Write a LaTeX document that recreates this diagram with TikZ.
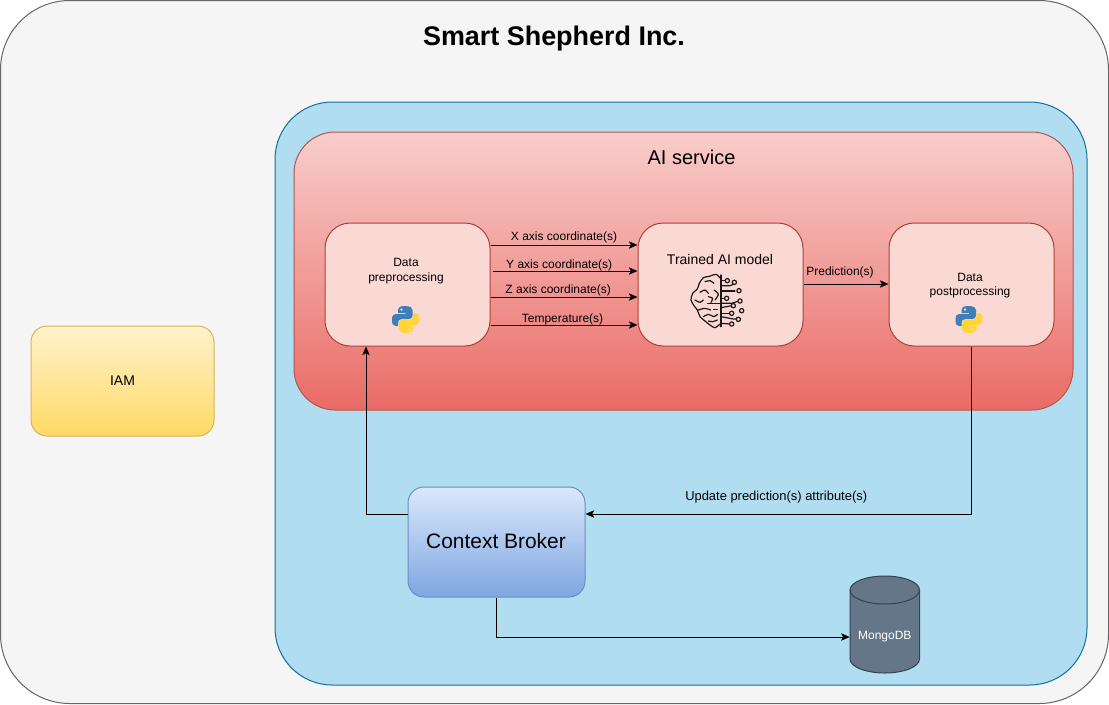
\documentclass[tikz,border=0pt]{standalone}
\usepackage{fontspec}
\setmainfont{Liberation Sans}
\usetikzlibrary{arrows.meta}
\definecolor{outerfill}{HTML}{F5F5F5}
\definecolor{outerline}{HTML}{666666}
\definecolor{bluefill}{HTML}{B1DDF0}
\definecolor{blueline}{HTML}{10739E}
\definecolor{redtop}{HTML}{F8CECC}
\definecolor{redbot}{HTML}{EA6B66}
\definecolor{redline}{HTML}{B85450}
\definecolor{innerfill}{HTML}{FAD9D5}
\definecolor{innerline}{HTML}{AE4132}
\definecolor{ytop}{HTML}{FFF2CC}
\definecolor{ybot}{HTML}{FFD966}
\definecolor{yline}{HTML}{D6B656}
\definecolor{btop}{HTML}{DAE8FC}
\definecolor{bbot}{HTML}{7EA6E0}
\definecolor{bline}{HTML}{6C8EBF}
\definecolor{dbfill}{HTML}{647687}
\definecolor{dbline}{HTML}{314354}
\definecolor{pyblue}{HTML}{3F7FB5}
\definecolor{pyyellow}{HTML}{FFD43B}
\tikzset{
  x=0.75pt,y=-0.75pt,
  px/.style 2 args={minimum width=#1*0.75pt,minimum height=#2*0.75pt},
  region/.style={draw,rectangle,inner sep=0pt,line width=0.75pt},
  outerbox/.style={region,draw=outerline,fill=outerfill,px={1108}{703},rounded corners=52pt},
  bluebox/.style={region,draw=blueline,fill=bluefill,px={812}{583},rounded corners=43pt},
  aibox/.style={region,draw=redline,top color=redtop,bottom color=redbot,px={779}{278},rounded corners=31pt},
  innerbox/.style={region,draw=innerline,fill=innerfill,px={165}{123},rounded corners=19pt},
  iambox/.style={region,draw=yline,top color=ytop,bottom color=ybot,px={183}{110},rounded corners=12pt},
  cbbox/.style={region,draw=bline,top color=btop,bottom color=bbot,px={177}{110},rounded corners=12pt},
  lbl/.style={font=\fontsize{9pt}{11pt}\selectfont,inner sep=0pt,align=center},
  conn/.style={line width=0.75pt,-{Stealth[length=6.5pt,width=5.5pt,inset=1.5pt]}},
  brainline/.style={line width=0.9pt,black!90,line cap=round,line join=round},
  pythonlogo/.pic={
    \begin{scope}[shift={(-13.5,-13.5)}]
      \fill[pyblue,even odd rule] (13,0) .. controls (7,0) and (6,2) .. (6,4) -- (6,7) -- (13.5,7) -- (13.5,8) -- (3.5,8)
        .. controls (1,8) and (0,10) .. (0,14) .. controls (0,18) and (1,20) .. (3.5,20) -- (6,20) -- (6,16.5)
        .. controls (6,14.5) and (7.5,13) .. (10,13) -- (17,13) .. controls (19,13) and (20.5,11.5) .. (20.5,9.5)
        -- (20.5,4) .. controls (20.5,2) and (18.5,0) .. (13,0) -- cycle
        (9.5,3.6) circle[radius=1.2pt];
      \begin{scope}[shift={(27,27)},xscale=-1,yscale=-1]
      \fill[pyyellow,even odd rule] (13,0) .. controls (7,0) and (6,2) .. (6,4) -- (6,7) -- (13.5,7) -- (13.5,8) -- (3.5,8)
        .. controls (1,8) and (0,10) .. (0,14) .. controls (0,18) and (1,20) .. (3.5,20) -- (6,20) -- (6,16.5)
        .. controls (6,14.5) and (7.5,13) .. (10,13) -- (17,13) .. controls (19,13) and (20.5,11.5) .. (20.5,9.5)
        -- (20.5,4) .. controls (20.5,2) and (18.5,0) .. (13,0) -- cycle
        (9.5,3.6) circle[radius=1.2pt];
      \end{scope}
    \end{scope}
  }
}
\begin{document}
\begin{tikzpicture}
\useasboundingbox (0,0) rectangle (1109,704);
\node[outerbox] (outer) at (554.5,352) {};
\node[bluebox] (blue) at (681,393.5) {};
\node[aibox] (ai) at (683.5,271) {};
\node[innerbox] (pre) at (407.5,284.5) {};
\node[innerbox] (model) at (720.5,284.5) {};
\node[innerbox] (post) at (971.5,284.5) {};
\node[iambox,font=\fontsize{10.5pt}{12pt}\selectfont,inner sep=0pt] (iam) at (122.5,381) {IAM};
\node[cbbox] (cb) at (496.5,542) {};
\node[font=\fontsize{15.7pt}{18pt}\selectfont,inner sep=0pt] (cbtext) at (496,541) {Context Broker};

\node[font=\bfseries\fontsize{20.2pt}{24pt}\selectfont,inner sep=0pt] (title) at (554,39) {Smart Shepherd Inc.};
\node[font=\fontsize{15pt}{18pt}\selectfont,inner sep=0pt] (aititle) at (691.5,157.5) {AI service};
\node[lbl] (pretext) at (406,271) {Data\\preprocessing};
\node[lbl] (posttext) at (970,285.5) {Data\\postprocessing};
\node[font=\fontsize{10.5pt}{12pt}\selectfont,inner sep=0pt] (modeltext) at (720,259) {Trained AI model};

\pic at (405.5,319.5) {pythonlogo};
\pic at (969,319.5) {pythonlogo};

% brain icon
\begin{scope}[shift={(640,215)},x=0.25pt,y=-0.25pt,brainline]
  \draw plot[smooth] coordinates {(243,192)(228,178)(208,184)(190,188)(178,205)(172,222)(158,235)(153,255)(162,272)(172,285)(180,305)(195,318)(210,330)(225,338)(243,325)};
  \draw (243,180) -- (243,335);
  \draw plot[smooth] coordinates {(195,200)(210,197)(222,205)};
  \draw plot[smooth] coordinates {(180,232)(195,225)(205,235)};
  \draw plot[smooth] coordinates {(222,225)(235,238)(225,255)};
  \draw plot[smooth] coordinates {(205,245)(218,250)(213,262)};
  \draw plot[smooth] coordinates {(165,255)(180,262)(190,255)};
  \draw (203,265) -- (243,265);
  \draw plot[smooth] coordinates {(175,285)(195,280)(212,285)};
  \draw (220,283) -- (232,283);
  \draw plot[smooth] coordinates {(190,305)(205,298)(222,305)(232,298)};
  \draw plot[smooth] coordinates {(205,318)(218,320)(232,315)};
  % circuit
  \draw (243,197) -- (257,197);
  \draw (243,212) -- (270,212) -- (283,207);
  \draw (243,228) -- (285,228) ;
  \draw (243,250) -- (255,250);
  \draw (243,265) -- (275,265) -- (296,258);
  \draw (243,278) -- (275,272);
  \draw (243,295) -- (270,295);
  \draw (243,305) -- (280,312) -- (290,312);
  \draw (243,325) -- (270,327);
  \foreach \cx/\cy in {262/197,283/202,297/227,260/250,300/258,280/272,305/287,275/295,295/313,275/327}
    \draw[fill=innerfill] (\cx,\cy) circle[radius=1.6pt];
\end{scope}

% MongoDB cylinder
\fill[dbfill] (850,590) arc[start angle=180,end angle=360,x radius=34.75,y radius=14] -- (919.5,659) arc[start angle=0,end angle=180,x radius=34.75,y radius=14] -- cycle;
\draw[dbline,line width=0.75pt] (850,590) arc[start angle=180,end angle=-180,x radius=34.75,y radius=14];
\draw[dbline,line width=0.75pt] (850,590) -- (850,659) arc[start angle=180,end angle=0,x radius=34.75,y radius=14] -- (919.5,590);
\node[minimum width=52.1pt,inner sep=0pt,text=white,font=\fontsize{9pt}{11pt}\selectfont] (mongo) at (884.75,637) {MongoDB};

% connectors
\draw[conn] (pre.east |- 0,245) -- (model.west |- 0,245) node[lbl,midway,above=1.5pt] {X axis coordinate(s)};
\draw[conn] ([xshift=1.5pt]pre.east |- 0,271) -- (model.west |- 0,271) node[lbl,pos=0.46,above=-0.5pt] {Y axis coordinate(s)};
\draw[conn] (pre.east |- 0,297) -- (model.west |- 0,297) node[lbl,pos=0.46,above=0.3pt] {Z axis coordinate(s)};
\draw[conn] (pre.east |- 0,325) -- (model.west |- 0,325) node[lbl,pos=0.49,above=-0.5pt] {Temperature(s)};
\draw[conn] (model.east |- 0,284) -- (post.west |- 0,284) node[lbl,pos=0.43,above=4pt] {Prediction(s)};
\draw[conn] (post.south) |- (cb.east |- 0,514) node[lbl,pos=0.753,above=7.5pt,font=\fontsize{9.7pt}{11pt}\selectfont] {Update prediction(s) attribute(s)};
\draw[conn] (cb.west |- 0,514) -| (366,0 |- pre.south);
\draw[conn] (cb.south) |- (mongo.west);
\end{tikzpicture}
\end{document}
